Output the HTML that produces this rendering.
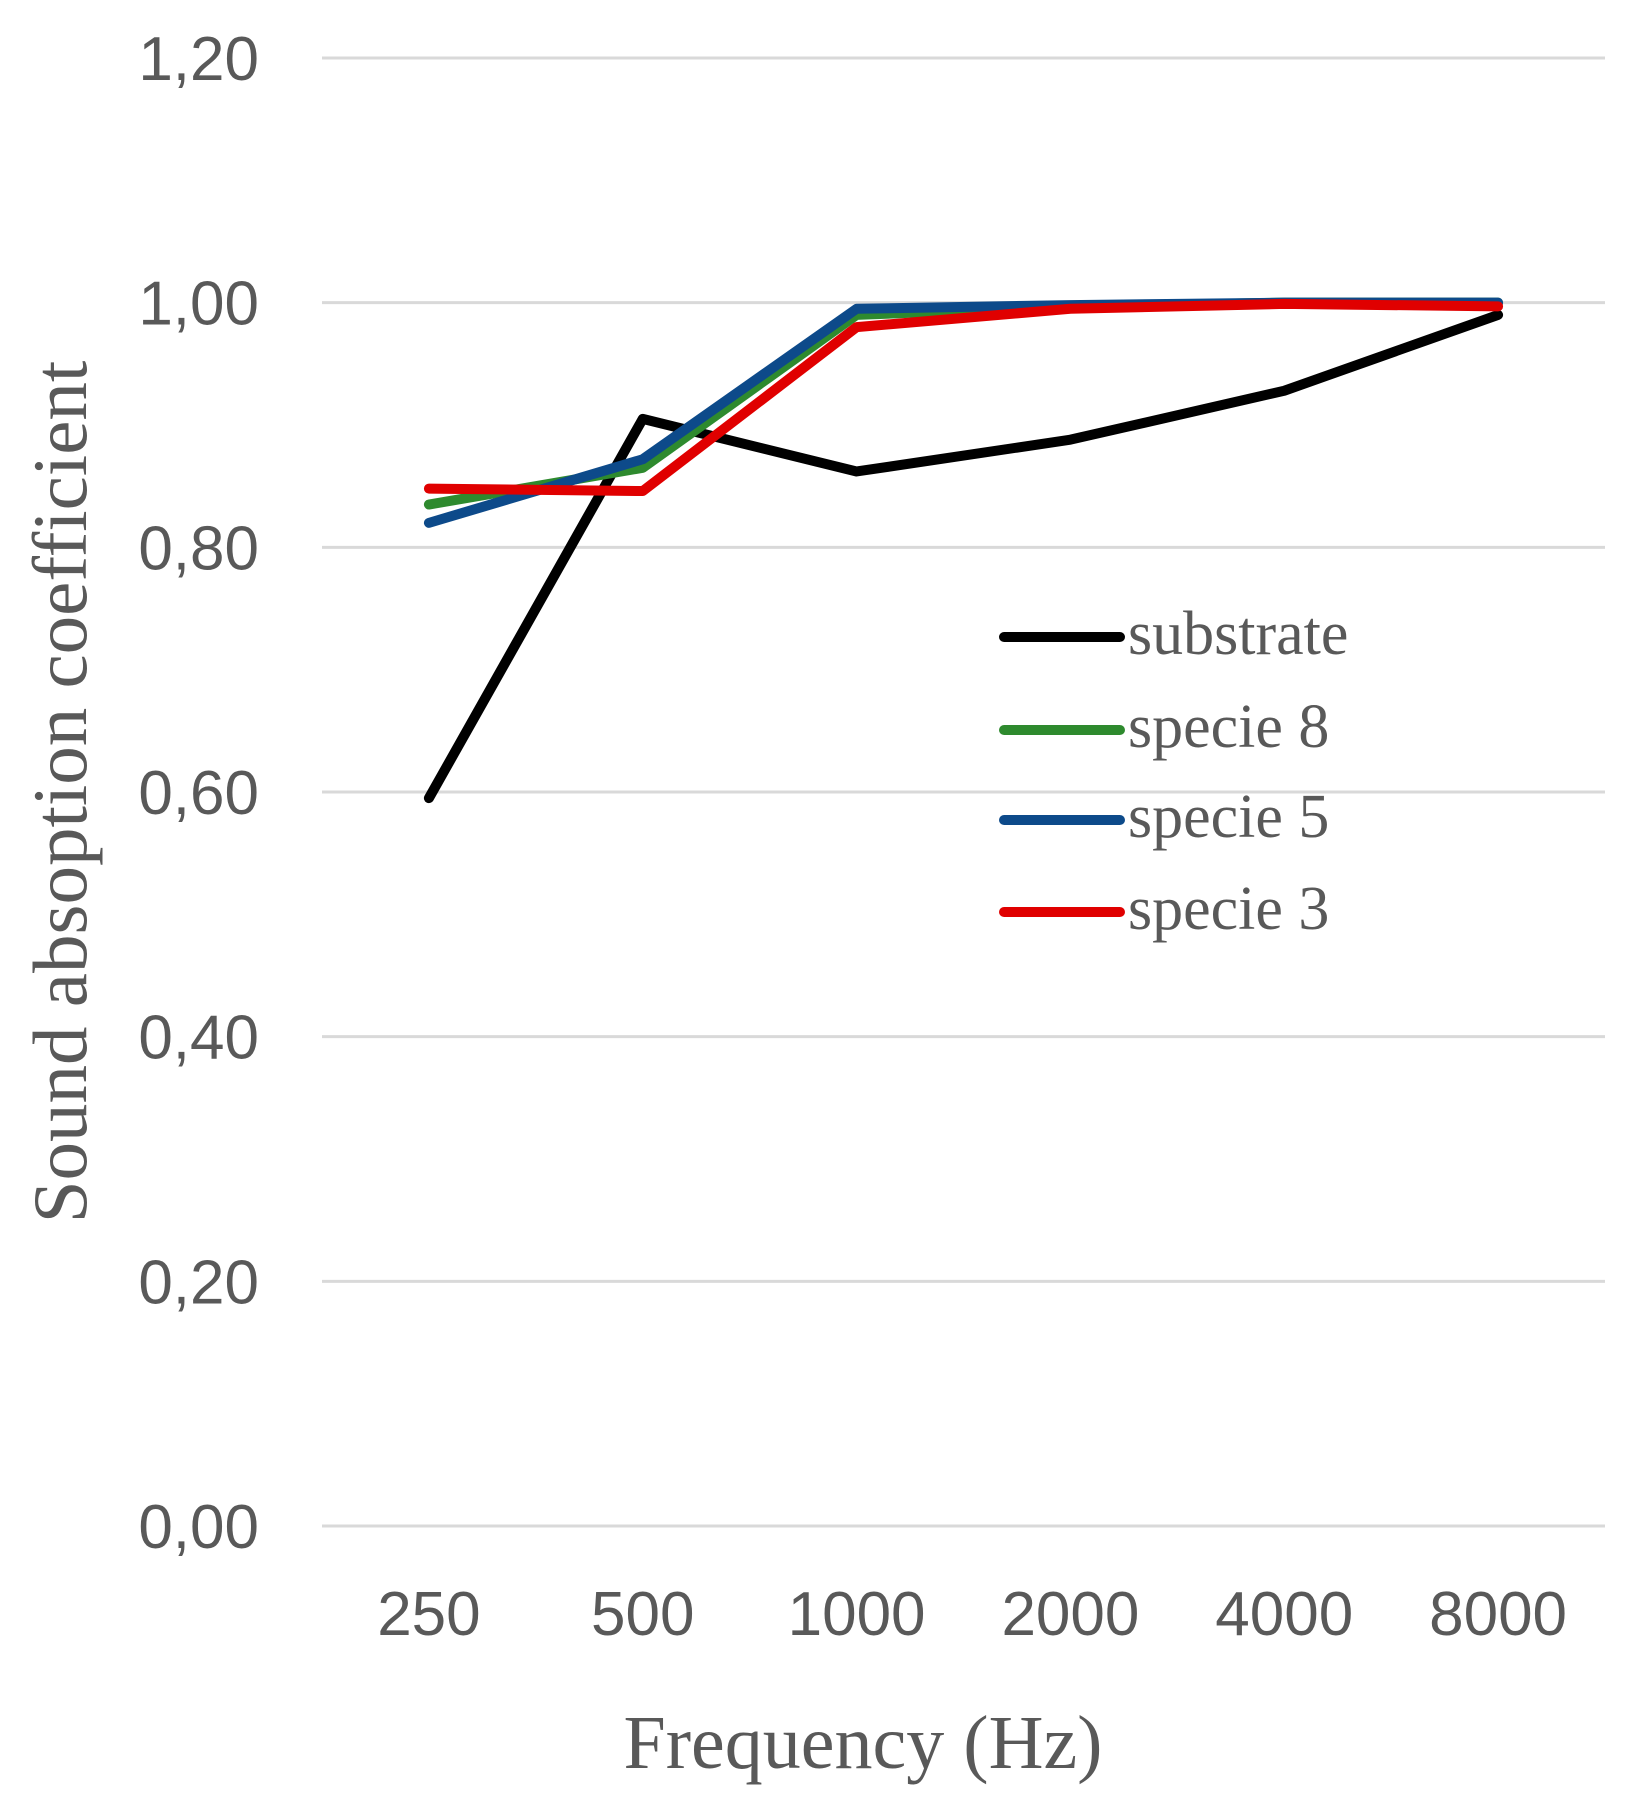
<!DOCTYPE html>
<html><head><meta charset="utf-8"><style>
body{margin:0;background:#fff}
svg{display:block}
.tick{font-family:"Liberation Sans",sans-serif;font-size:62px;fill:#595959}
.serif{font-family:"Liberation Serif",serif;fill:#595959}
</style></head><body>
<svg id="chart" width="1648" height="1815">
<g id="grid"></g><g id="series"></g><g id="legend"></g>
<text class="serif" font-size="76" x="863" y="1768" text-anchor="middle">Frequency (Hz)</text>
<text class="serif" font-size="77" transform="translate(86,792) rotate(-90)" text-anchor="middle">Sound absoption coefficient</text>
</svg>
<script>
const categories=["250","500","1000","2000","4000","8000"];
const yTicks=[0,0.2,0.4,0.6,0.8,1.0,1.2];
const yTickLabels=["0,00","0,20","0,40","0,60","0,80","1,00","1,20"];
const seriesNames=["substrate","specie 8","specie 5","specie 3"];
const seriesColors=["#000000","#2e8a2e","#0d4a8a","#e00000"];
const substrate=[0.595,0.905,0.862,0.888,0.928,0.99];
const specie8=[0.835,0.865,0.99,0.997,1.0,1.0];
const specie5=[0.82,0.872,0.995,0.998,1.0,1.0];
const specie3=[0.848,0.846,0.98,0.995,0.999,0.997];
const seriesData=[substrate,specie8,specie5,specie3];
const NS="http://www.w3.org/2000/svg";
const L=322,R=1605,T=58,B=1526;
const x=i=>L+(R-L)/categories.length*(i+0.5);
const y=v=>B-(v/1.2)*(B-T);
const grid=document.getElementById('grid');
yTicks.forEach((v,i)=>{
 const l=document.createElementNS(NS,'line');
 l.setAttribute('x1',L);l.setAttribute('x2',R);l.setAttribute('y1',y(v));l.setAttribute('y2',y(v));
 l.setAttribute('stroke','#d9d9d9');l.setAttribute('stroke-width','3');
 
 
 grid.appendChild(l);
 const t=document.createElementNS(NS,'text');
 t.setAttribute('x',259);t.setAttribute('y',y(v)+22);t.setAttribute('text-anchor','end');t.setAttribute('class','tick');
 t.textContent=yTickLabels[i];
 
 
 grid.appendChild(t);
});
categories.forEach((c,i)=>{
 const t=document.createElementNS(NS,'text');
 t.setAttribute('x',x(i));t.setAttribute('y',1635);t.setAttribute('text-anchor','middle');t.setAttribute('class','tick');
 t.textContent=c;
 
 
 grid.appendChild(t);
});
const sg=document.getElementById('series');
seriesData.forEach((d,k)=>{
 const p=document.createElementNS(NS,'polyline');
 p.setAttribute('points',d.map((v,i)=>x(i)+','+y(v)).join(' '));
 p.setAttribute('fill','none');p.setAttribute('stroke',seriesColors[k]);p.setAttribute('stroke-width','10');
 p.setAttribute('stroke-linejoin','round');p.setAttribute('stroke-linecap','round');
 
 
 sg.appendChild(p);
});
const lg=document.getElementById('legend');
const ly=[637,730,820,912];
seriesNames.forEach((n,k)=>{
 const l=document.createElementNS(NS,'line');
 l.setAttribute('x1',1004);l.setAttribute('x2',1120);l.setAttribute('y1',ly[k]);l.setAttribute('y2',ly[k]);
 l.setAttribute('stroke',seriesColors[k]);l.setAttribute('stroke-width','10');l.setAttribute('stroke-linecap','round');
 
 
 lg.appendChild(l);
 const t=document.createElementNS(NS,'text');
 t.setAttribute('x',1128);t.setAttribute('y',ly[k]+17);t.setAttribute('class','serif');t.setAttribute('font-size','62');
 t.textContent=n;
 
 
 lg.appendChild(t);
});
</script>
</body></html>
